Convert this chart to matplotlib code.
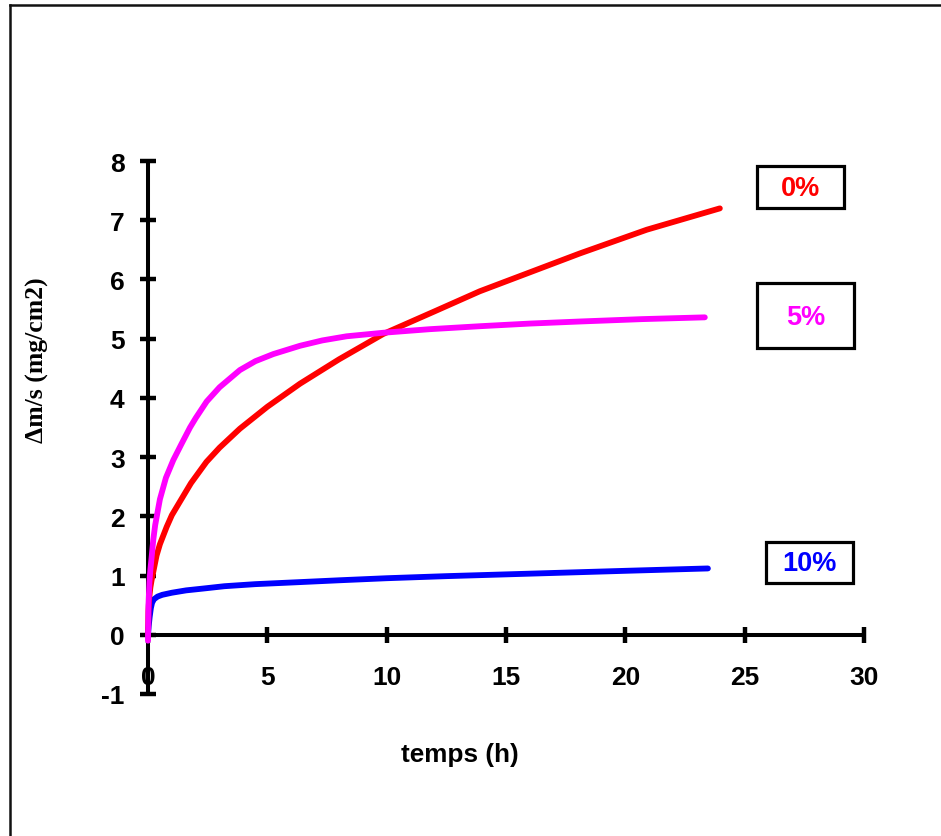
import matplotlib
matplotlib.use("Agg")
import matplotlib.pyplot as plt
from matplotlib.lines import Line2D
from matplotlib.patches import Rectangle

# --- data ------------------------------------------------------------------
t_0 = [0, 0.02, 0.05, 0.1, 0.15, 0.25, 0.36, 0.5, 0.78, 1.0, 1.34, 1.8, 2.45,
       3.0, 3.85, 5.0, 6.37, 8.0, 9.86, 12.0, 13.9, 16.0, 18.1, 20.9, 23.96]
m_0 = [0, 0.4, 0.62, 0.8, 0.92, 1.12, 1.34, 1.53, 1.82, 2.02, 2.25, 2.56, 2.92,
       3.16, 3.48, 3.85, 4.24, 4.65, 5.08, 5.46, 5.80, 6.12, 6.44, 6.84, 7.20]

t_5 = [0, 0.02, 0.06, 0.1, 0.15, 0.22, 0.3, 0.5, 0.75, 1.06, 1.4, 1.76, 2.0,
       2.46, 3.0, 3.85, 4.5, 5.25, 6.37, 7.3, 8.32, 9.86, 11.8, 13.9, 16.0,
       18.1, 20.7, 23.33]
m_5 = [-0.1, 0.5, 0.89, 1.1, 1.3, 1.6, 1.85, 2.29, 2.65, 2.95, 3.22, 3.50, 3.66,
       3.94, 4.18, 4.47, 4.62, 4.74, 4.88, 4.97, 5.04, 5.10, 5.16, 5.21, 5.255,
       5.29, 5.33, 5.36]

t_10 = [0, 0.03, 0.07, 0.12, 0.17, 0.25, 0.4, 0.6, 1.0, 1.6, 2.3, 3.2, 4.5,
        6.4, 8.0, 10.0, 12.5, 15.0, 17.5, 20.0, 23.46]
m_10 = [0, 0.15, 0.3, 0.45, 0.54, 0.6, 0.645, 0.675, 0.71, 0.75, 0.78, 0.82,
        0.855, 0.89, 0.92, 0.955, 0.99, 1.02, 1.05, 1.08, 1.12]

x_ticks = [0, 5, 10, 15, 20, 25, 30]
y_ticks = [-1, 0, 1, 2, 3, 4, 5, 6, 7, 8]

series_labels = ["0%", "5%", "10%"]
series_colors = ["#FF0000", "#FF00FF", "#0000FF"]

# --- figure ----------------------------------------------------------------
W, H = 941, 837
fig = plt.figure(figsize=(W / 100, H / 100), dpi=100)
fig.patch.set_facecolor("white")

def fx(px):
    return px / W

def fy(py):
    return 1 - py / H

ax = fig.add_axes([fx(148), fy(695), fx(864) - fx(148), fy(162) - fy(695)])
ax.set_xlim(0, 30)
ax.set_ylim(-1, 8)

for s in ("top", "right"):
    ax.spines[s].set_visible(False)
ax.spines["left"].set_position(("data", 0))
ax.spines["bottom"].set_position(("data", 0))
for s in ("left", "bottom"):
    ax.spines[s].set_linewidth(2.9)
    ax.spines[s].set_capstyle("butt")

tick_font = dict(family="Liberation Sans", weight="bold", size=19)
ax.set_xticks(x_ticks)
ax.set_yticks(y_ticks)
ax.set_xticklabels([str(v) for v in x_ticks], fontdict=tick_font)
ax.set_yticklabels([str(v) for v in y_ticks], fontdict=tick_font)
ax.tick_params(axis="both", direction="inout", length=11.5, width=3.2)
ax.tick_params(axis="x", pad=16)
ax.tick_params(axis="y", pad=11)

# curves (blue first, magenta on top)
for t, m, c in [(t_10, m_10, series_colors[2]),
                (t_0, m_0, series_colors[0]),
                (t_5, m_5, series_colors[1])]:
    ax.plot(t, m, color=c, lw=4.2, solid_capstyle="round",
            solid_joinstyle="round", clip_on=False, zorder=3)

ax.set_xlabel("temps (h)", family="Liberation Sans", weight="bold",
              size=18.8, va="center")
ax.xaxis.set_label_coords((460 - 148) / 716, (695 - 755) / 533)
ax.set_ylabel("\u0394m/s (mg/cm2)", family="Liberation Serif", weight="bold",
              size=18.5, va="center")
ax.yaxis.set_label_coords((37 - 148) / 716, (695 - 360) / 533)

# label boxes at the right
boxes = [(756.7, 166.7, 844.3, 209.0, 800.5, 188.5),
         (756.7, 284.0, 854.0, 349.0, 806.0, 318.0),
         (765.7, 543.0, 853.3, 584.0, 809.5, 564.0)]
for (x0, y0, x1, y1, tx, ty), lab, c in zip(boxes, series_labels, series_colors):
    fig.add_artist(Rectangle((fx(x0), fy(y1)), fx(x1) - fx(x0), fy(y0) - fy(y1),
                             transform=fig.transFigure, facecolor="white",
                             edgecolor="black", lw=2.3))
    fig.text(fx(tx), fy(ty), lab, color=c, ha="center", va="center",
             family="Liberation Sans", weight="bold", size=19.5)

# outer chart frame (only left and top edges fall inside the picture)
fig.add_artist(Line2D([fx(9.5), fx(9.5)], [0, fy(5.8)], transform=fig.transFigure,
                      color="#111111", lw=1.8))
fig.add_artist(Line2D([fx(9.5), 1], [fy(5.8), fy(5.8)], transform=fig.transFigure,
                      color="#111111", lw=1.8))

fig.savefig("out.png", dpi=100)
